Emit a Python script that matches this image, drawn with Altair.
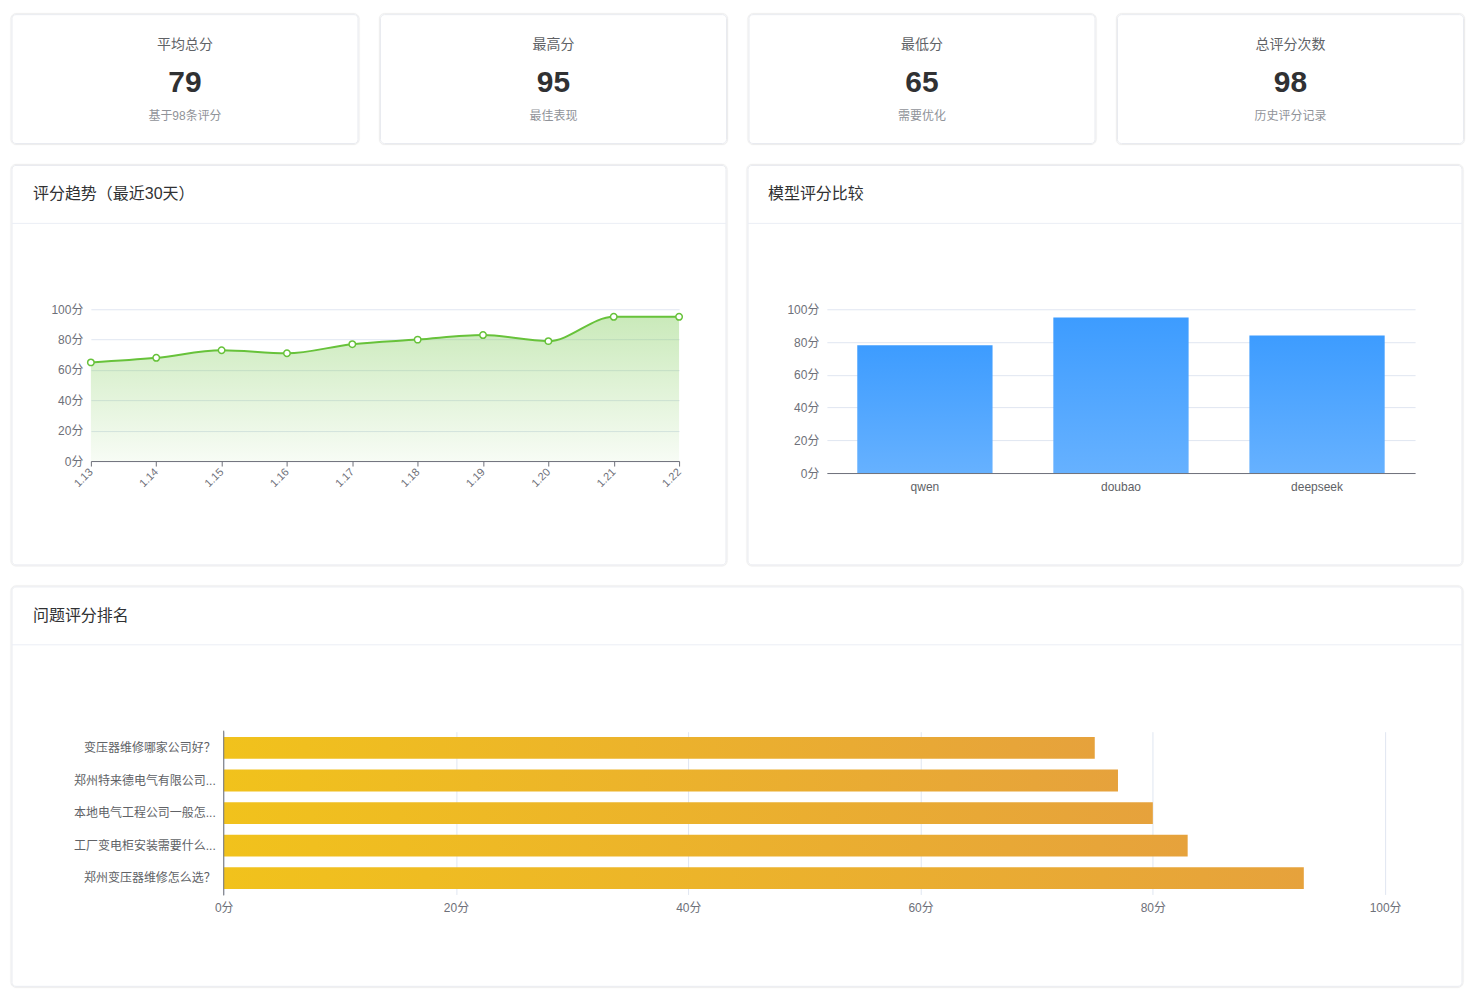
import altair as alt
import pandas as pd

FONT = "Liberation Sans, Noto Sans CJK SC, sans-serif"

# ---------------- data ----------------
stat_titles = ["平均总分", "最高分", "最低分", "总评分次数"]
stat_values = ["79", "95", "65", "98"]
stat_subs = ["基于98条评分", "最佳表现", "需要优化", "历史评分记录"]

trend_title = "评分趋势（最近30天）"
trend_dates = ["1.13", "1.14", "1.15", "1.16", "1.17", "1.18", "1.19", "1.20", "1.21", "1.22"]
trend_scores = [65, 68, 73, 71, 77, 80, 83, 79, 95, 95]

model_title = "模型评分比较"
models = ["qwen", "doubao", "deepseek"]
model_scores = [78, 95, 84]

rank_title = "问题评分排名"
questions = ["变压器维修哪家公司好？", "郑州特来德电气有限公司...", "本地电气工程公司一般怎...",
             "工厂变电柜安装需要什么...", "郑州变压器维修怎么选？"]
question_scores = [75, 77, 80, 83, 93]

y_ticks = [0, 20, 40, 60, 80, 100]

deco = pd.DataFrame({"d": [0]})

# every card's view starts this far right of the card's left edge, so that the
# vertical concatenation lines up all cards on the same left edge
LEFT = 79


def card_layers(left, right, top, bottom, title=None, title_x=0, title_y=0, divider_y=None):
    """Card outline (with soft shadow ring), title and divider, in pixel units around the view."""
    layers = []
    for ext, sw, op in [(1.75, 0.5, 0.04), (1, 1, 0.07)]:
        layers.append(alt.Chart(deco).mark_rect(fill="transparent", stroke="#000000", strokeOpacity=op,
                                                strokeWidth=sw, cornerRadius=4 + ext).encode(
            x=alt.value(left - ext), x2=alt.value(right + ext),
            y=alt.value(top - ext), y2=alt.value(bottom + ext)))
    layers.append(alt.Chart(deco).mark_rect(fill="transparent", stroke="#e9ebf0", strokeWidth=1,
                                            cornerRadius=4).encode(
        x=alt.value(left), x2=alt.value(right), y=alt.value(top), y2=alt.value(bottom)))
    if divider_y is not None:
        layers.append(alt.Chart(deco).mark_rule(color="#ebeef5", strokeWidth=1).encode(
            x=alt.value(left), x2=alt.value(right), y=alt.value(divider_y)))
    if title is not None:
        layers.append(alt.Chart(pd.DataFrame({"t": [title]})).mark_text(
            align="left", baseline="middle", fontSize=16, color="#303133", font=FONT).encode(
            x=alt.value(title_x), y=alt.value(title_y), text="t:N"))
    return layers


# ---------------- stat cards ----------------
CW, CH = 346.5, 129
stat_charts = []
for i in range(4):
    df = pd.DataFrame({"title": [stat_titles[i]], "value": [stat_values[i]], "sub": [stat_subs[i]]})
    base = alt.Chart(df)
    cx = -LEFT + CW / 2
    t1 = base.mark_text(fontSize=14, color="#606266", font=FONT, baseline="middle").encode(
        x=alt.value(cx), y=alt.value(30), text="title:N")
    t2 = base.mark_text(fontSize=30, fontWeight="bold", color="#303133", font=FONT, baseline="middle").encode(
        x=alt.value(cx), y=alt.value(68), text="value:N")
    t3 = base.mark_text(fontSize=12, color="#909399", font=FONT, baseline="middle").encode(
        x=alt.value(cx), y=alt.value(101), text="sub:N")
    c = alt.layer(*card_layers(-LEFT, -LEFT + CW, 0, CH), t1, t2, t3).properties(width=200, height=CH)
    stat_charts.append(c)

row1 = alt.hconcat(*stat_charts, spacing=18)

# ---------------- trend chart ----------------
TW, TH = 589, 152
trend_df = pd.DataFrame({"date": trend_dates, "score": trend_scores})
tx = alt.X("date:N", sort=trend_dates, title=None,
           scale=alt.Scale(type="point", padding=0),
           axis=alt.Axis(labelAngle=-45, labelAlign="right", labelBaseline="middle",
                         domainColor="#6e7079", tickColor="#6e7079", tickSize=5,
                         labelColor="#6e7079", labelFontSize=11, labelPadding=4, grid=False))
ty = alt.Y("score:Q", title=None, scale=alt.Scale(domain=[0, 100]),
           axis=alt.Axis(values=y_ticks, labelExpr="datum.value + '分'", grid=True, gridColor="#e0e6f1",
                         domain=False, ticks=False, labelPadding=8, labelColor="#6e7079", labelFontSize=12))
tbase = alt.Chart(trend_df)
area = tbase.mark_area(interpolate="monotone", color=alt.Gradient(
    gradient="linear", x1=0, y1=0, x2=0, y2=1,
    stops=[alt.GradientStop(color="rgba(103,194,58,0.35)", offset=0),
           alt.GradientStop(color="rgba(103,194,58,0.05)", offset=1)])).encode(x=tx, y=ty)
line = tbase.mark_line(interpolate="monotone", color="#67c23a", strokeWidth=2).encode(x=tx, y=ty)
pts = tbase.mark_circle(fill="white", stroke="#67c23a", strokeWidth=1.5, size=42, opacity=1).encode(x=tx, y=ty)

trend = alt.layer(
    *card_layers(-LEFT, TW + 47, -144, TH + 104, trend_title, -58, -115, -86),
    area, line, pts
).properties(width=TW, height=TH)

# ---------------- model chart ----------------
MW, MH = 589, 164
model_df = pd.DataFrame({"model": models, "score": model_scores})
bars = alt.Chart(model_df).mark_bar(color=alt.Gradient(
    gradient="linear", x1=0, y1=0, x2=0, y2=1,
    stops=[alt.GradientStop(color="#3d9cff", offset=0),
           alt.GradientStop(color="#66b1ff", offset=1)])).encode(
    x=alt.X("model:N", sort=models, title=None,
            scale=alt.Scale(paddingInner=0.31, paddingOuter=0.155),
            axis=alt.Axis(labelAngle=0, domainColor="#6e7079", ticks=False, labelColor="#606266",
                          labelFontSize=12, labelPadding=8, grid=False)),
    y=alt.Y("score:Q", title=None, scale=alt.Scale(domain=[0, 100]),
            axis=alt.Axis(values=y_ticks, labelExpr="datum.value + '分'", grid=True, gridColor="#e0e6f1",
                          domain=False, ticks=False, labelPadding=8, labelColor="#6e7079", labelFontSize=12)))
model = alt.layer(
    *card_layers(-LEFT, MW + 47, -144, MH + 92, model_title, -59, -115, -86),
    bars
).properties(width=MW, height=MH)

row2 = alt.hconcat(trend, model, spacing=18)

# ---------------- ranking chart ----------------
# view spans from card-left+79; the plot itself spans [133, 1296] inside it
RW, RH = 1296, 163
R0 = 133
rank_df = pd.DataFrame({"q": questions, "score": question_scores})
rx = alt.X("score:Q", title=None, scale=alt.Scale(domain=[0, 100], range=[R0, RW]),
           axis=alt.Axis(values=y_ticks, labelExpr="datum.value + '分'", grid=True, gridColor="#e0e6f1",
                         domain=False, ticks=False, labelPadding=8, labelColor="#6e7079", labelFontSize=12,
                         labelFlush=False))
ry = alt.Y("q:N", sort=questions, title=None,
           scale=alt.Scale(paddingInner=0.33, paddingOuter=0.165), axis=None)
rbars = alt.Chart(rank_df).mark_bar(color=alt.Gradient(
    gradient="linear", x1=0, y1=0, x2=1, y2=0,
    stops=[alt.GradientStop(color="#f1c21c", offset=0),
           alt.GradientStop(color="#e6a23c", offset=1)])).encode(x=rx, y=ry)
rlabels = alt.Chart(rank_df).mark_text(align="right", baseline="middle", fontSize=12,
                                       color="#606266", font=FONT).encode(
    y=ry, x=alt.value(R0 - 8), text="q:N")
raxis = alt.Chart(deco).mark_rule(color="#6e7079", strokeWidth=1).encode(
    x=alt.datum(0, scale=alt.Scale(domain=[0, 100], range=[R0, RW])), y=alt.value(-1), y2=alt.value(RH + 1))
rank = alt.layer(
    *card_layers(-LEFT, RW + 77, -145, RH + 92, rank_title, -58, -116, -87),
    rbars, rlabels, raxis
).properties(width=RW, height=RH)

chart = alt.vconcat(row1, row2, rank, spacing=18).properties(
    padding={"left": 2, "top": 4, "right": 0, "bottom": 0},
    background="white"
).configure_view(strokeWidth=0).configure_axis(labelFont=FONT)

chart.save("out.html", embed_options={"renderer": "svg", "actions": False})
